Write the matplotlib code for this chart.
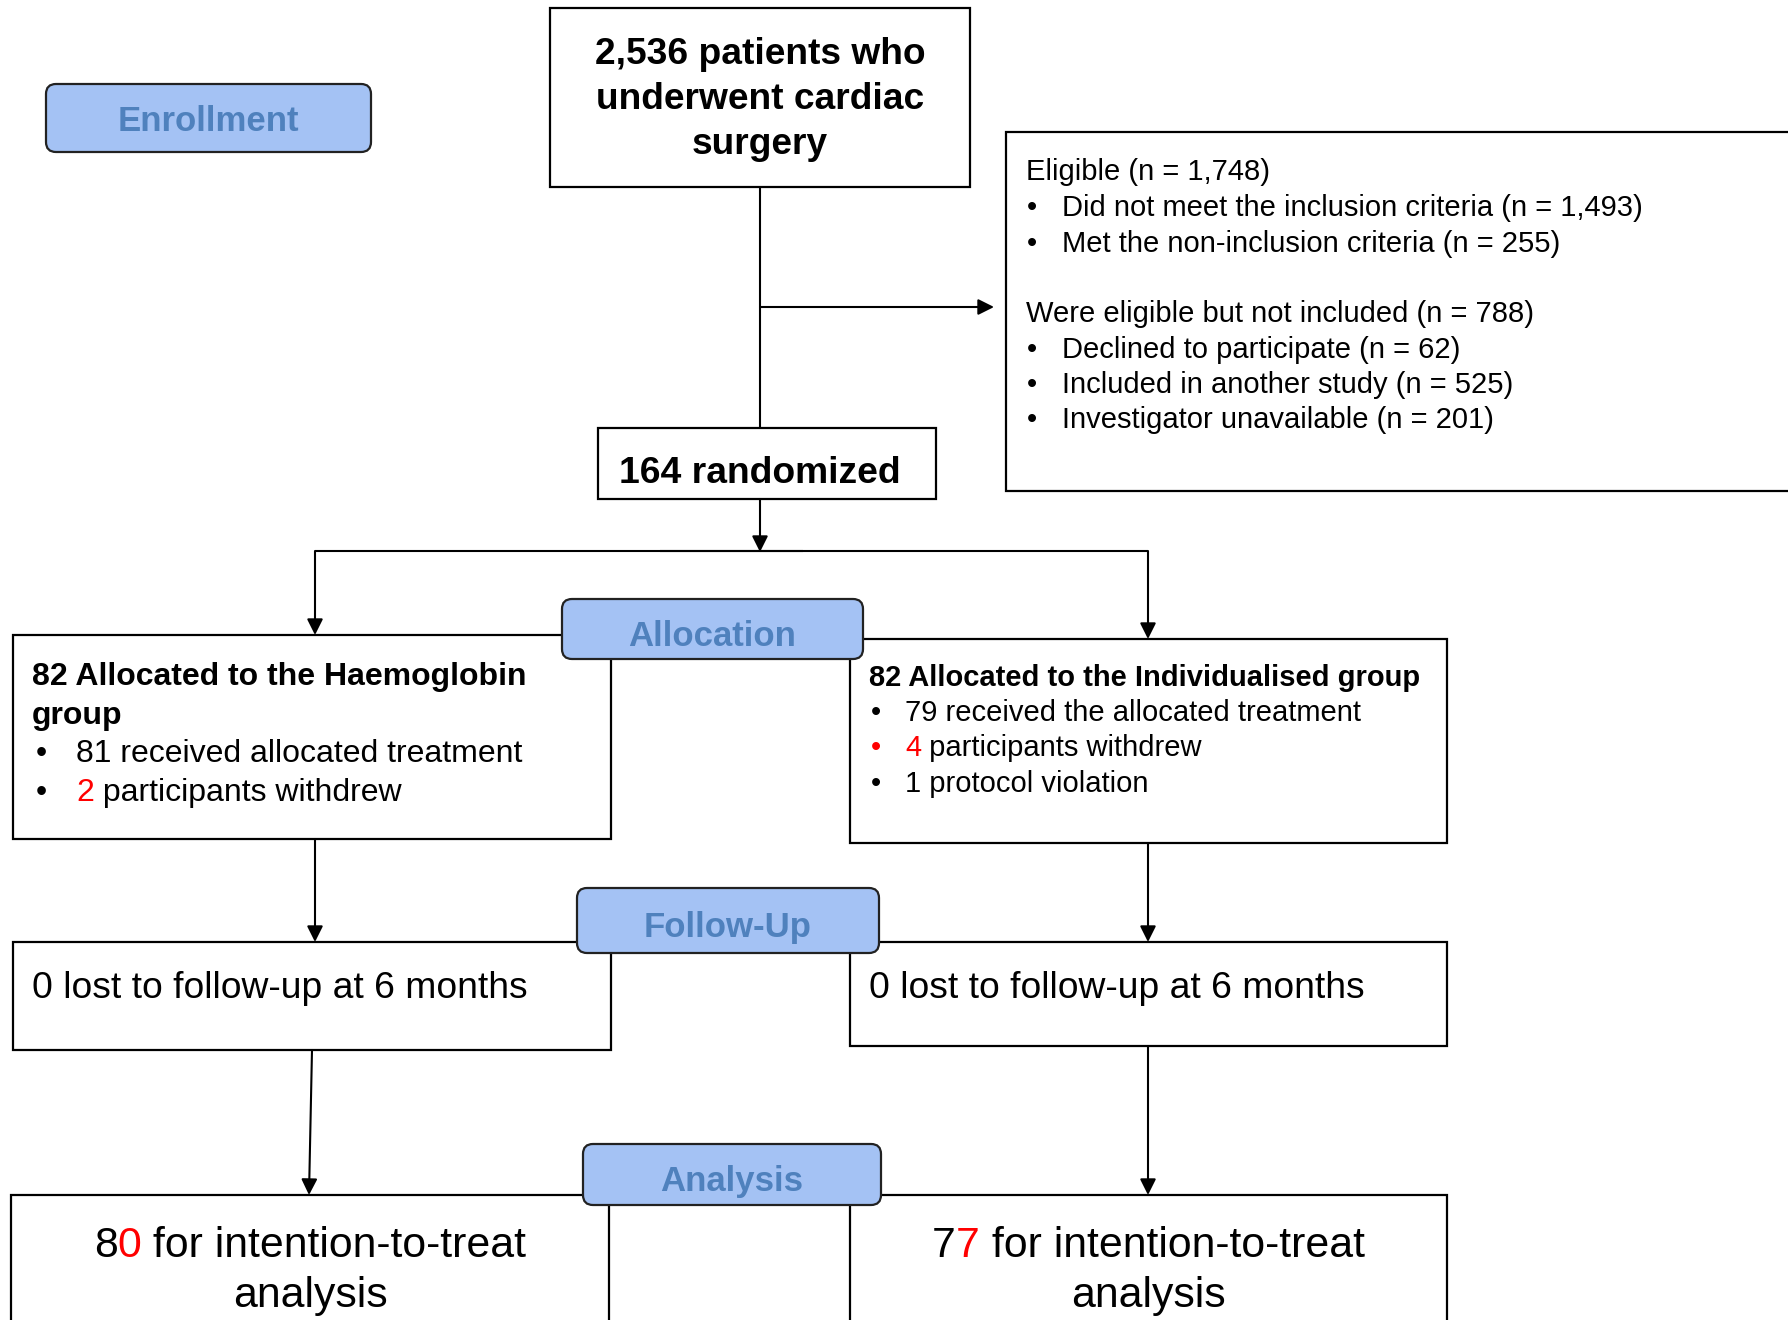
import matplotlib
matplotlib.use("Agg")
import matplotlib.pyplot as plt
from matplotlib.patches import Rectangle, FancyBboxPatch

W, H = 1788, 1320
INK, RED = "#000000", "#ff0000"
STAGE_FILL, STAGE_TEXT = "#a4c2f4", "#4f81bd"

# ---- diagram content ----
SCREENED = ["2,536 patients who", "underwent cardiac", "surgery"]
RANDOMIZED = "164 randomized"
STAGES = ["Enrollment", "Allocation", "Follow-Up", "Analysis"]
EXCL_HEADS = ["Eligible (n = 1,748)", "Were eligible but not included (n = 788)"]
EXCL_ITEMS = [
    ["Did not meet the inclusion criteria (n = 1,493)",
     "Met the non-inclusion criteria (n = 255)"],
    ["Declined to participate (n = 62)",
     "Included in another study (n = 525)",
     "Investigator unavailable (n = 201)"],
]
ARM_HEADS = [["82 Allocated to the Haemoglobin", "group"],
             ["82 Allocated to the Individualised group"]]
# each item: bullet colour, then (text, colour) segments
ARM_ITEMS = [
    [(INK, [("81 received allocated treatment", INK)]),
     (INK, [("2", RED), (" participants withdrew", INK)])],
    [(INK, [("79 received the allocated treatment", INK)]),
     (RED, [("4", RED), (" participants withdrew", INK)]),
     (INK, [("1 protocol violation", INK)])],
]
FOLLOWUP = ["0 lost to follow-up at 6 months", "0 lost to follow-up at 6 months"]
ITT_FIRST = ["8", "7"]          # black digit
ITT_SECOND = ["0", "7"]         # red digit
ITT_REST = [" for intention-to-treat", "analysis"]

plt.rcParams["font.family"] = ["Liberation Sans", "DejaVu Sans"]

fig = plt.figure(figsize=(W / 100, H / 100), dpi=100)
ax = fig.add_axes([0, 0, 1, 1])
ax.set_xlim(0, W)
ax.set_ylim(H, 0)
ax.axis("off")
R = fig.canvas.get_renderer()


def box(x0, y0, x1, y1, lw=1.6):
    ax.add_patch(Rectangle((x0, y0), x1 - x0, y1 - y0, fc="white", ec=INK, lw=lw, zorder=2))


def stage(x0, y0, x1, y1, label, dy=0):
    ax.add_patch(FancyBboxPatch((x0, y0), x1 - x0, y1 - y0,
                                boxstyle="round,pad=0,rounding_size=10",
                                fc=STAGE_FILL, ec="#222222", lw=1.6, zorder=4))
    ax.text((x0 + x1) / 2, (y0 + y1) / 2 + dy, label, fontsize=25, weight="bold",
            color=STAGE_TEXT, ha="center", va="center_baseline", zorder=5)


def rich(x, yc, segs, size, weight="normal", ha="left"):
    yb = yc + 0.36 * size * 100 / 72
    arts, cx = [], x
    for s, c in segs:
        t = ax.text(cx, yb, s, fontsize=size, color=c, weight=weight,
                    ha="left", va="baseline", zorder=5)
        cx += t.get_window_extent(R).width
        arts.append(t)
    if ha == "center":
        tot = cx - x
        for t in arts:
            px, py = t.get_position()
            t.set_position((px - tot / 2, py))


def arrow(x0, y0, x1, y1):
    ax.annotate("", xy=(x1, y1), xytext=(x0, y0),
                arrowprops=dict(arrowstyle="-|>", color=INK, lw=1.5,
                                mutation_scale=24, shrinkA=0, shrinkB=0), zorder=3)


def line(xs, ys):
    ax.plot(xs, ys, color=INK, lw=1.5, zorder=1, solid_capstyle="butt")


# ---- connectors ----
line([760, 760], [187, 428])
arrow(760, 307, 994, 307)
arrow(760, 499, 760, 552)
line([315, 1148], [551, 551])
line([660, 803], [551, 551])
arrow(315, 551, 315, 635)
arrow(1148, 551, 1148, 639)
arrow(315, 839, 315, 942)
arrow(1148, 843, 1148, 942)
arrow(312, 1050, 309, 1195)
arrow(1148, 1046, 1148, 1195)

# ---- enrollment ----
box(550, 8, 970, 187)
for i, s in enumerate(SCREENED):
    rich(760, 51 + i * 45, [(s, INK)], 26.7, weight="bold", ha="center")

box(1006, 132, 1800, 491)
ey = 170
for head, items in zip(EXCL_HEADS, EXCL_ITEMS):
    rich(1026, ey, [(head, INK)], 21)
    ey += 35.5
    for it in items:
        rich(1027, ey, [("\u2022", INK)], 21)
        rich(1062, ey, [(it, INK)], 21)
        ey += 35.5
    ey += 35

box(598, 428, 936, 499)
rich(619, 470, [(RANDOMIZED, INK)], 26.8, weight="bold")

stage(46, 84, 371, 152, STAGES[0])

# ---- allocation ----
arm_boxes = [(13, 635, 611, 839), (850, 639, 1447, 843)]
arm_text = [(32, 36, 76, 674, 38.5, 23), (869, 871, 905, 675, 35.5, 21)]
for (bx, head, items, (tx, bulx, itx, ty, dy, fs)) in zip(arm_boxes, ARM_HEADS, ARM_ITEMS, arm_text):
    box(*bx)
    y = ty
    for h in head:
        rich(tx, y, [(h, INK)], fs, weight="bold")
        y += dy
    for bc, segs in items:
        rich(bulx, y, [("\u2022", bc)], fs)
        rich(itx, y, segs, fs)
        y += dy
stage(562, 599, 863, 659, STAGES[1], dy=4)

# ---- follow-up ----
fu_boxes = [(13, 942, 611, 1050), (850, 942, 1447, 1046)]
for bx, s in zip(fu_boxes, FOLLOWUP):
    box(*bx)
    rich(bx[0] + 19, 985, [(s, INK)], 26.8)
stage(577, 888, 879, 953, STAGES[2], dy=3)

# ---- analysis ----
itt_boxes = [(11, 1195, 609, 1340), (850, 1195, 1447, 1340)]
for bx, a, b in zip(itt_boxes, ITT_FIRST, ITT_SECOND):
    box(*bx)
    cx = (bx[0] + bx[2]) / 2
    rich(cx, 1242, [(a, INK), (b, RED), (ITT_REST[0], INK)], 30.8, ha="center")
    rich(cx, 1292, [(ITT_REST[1], INK)], 30.8, ha="center")
stage(583, 1144, 881, 1205, STAGES[3], dy=3)

fig.savefig("out.png", dpi=100)
